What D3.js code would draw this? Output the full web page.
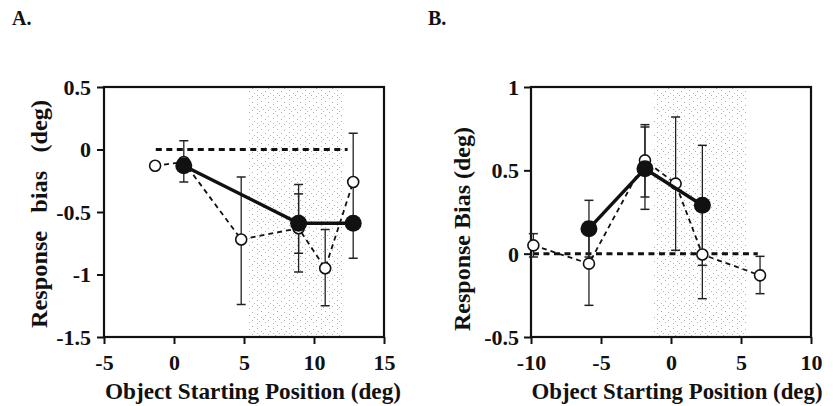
<!DOCTYPE html>
<html><head><meta charset="utf-8">
<script src="https://cdn.jsdelivr.net/npm/d3@7"></script>
<style>
html,body{margin:0;padding:0;background:#fff;}
svg{display:block;}
</style></head>
<body>
<svg id="chart" width="833" height="406"></svg>
<script>
// ---------- Panel A data ----------
const aXTicks = [-5, 0, 5, 10, 15];
const aXTickLabels = ["-5", "0", "5", "10", "15"];
const aYTicks = [0.5, 0, -0.5, -1, -1.5];
const aYTickLabels = ["0.5", "0", "-0.5", "-1", "-1.5"];
const aOpenX  = [-1.35, 0.7, 4.8, 8.9, 10.8, 12.8];
const aOpenY  = [-0.13, -0.10, -0.72, -0.63, -0.95, -0.26];
const aOpenLo = [null, null, -1.24, -0.98, -1.25, null];
const aOpenHi = [null, null, -0.22, -0.28, -0.64, null];
const aFillX  = [0.7, 8.9, 12.8];
const aFillY  = [-0.13, -0.59, -0.59];
const aFillLo = [-0.26, -0.83, -0.87];
const aFillHi = [0.07, -0.355, 0.13];
const aRefX   = [-1.3, 12.4];
const aRefY   = [0, 0];
const aShade  = [5.3, 12.1];

// ---------- Panel B data ----------
const bXTicks = [-10, -5, 0, 5, 10];
const bXTickLabels = ["-10", "-5", "0", "5", "10"];
const bYTicks = [1, 0.5, 0, -0.5];
const bYTickLabels = ["1", "0.5", "0", "-0.5"];
const bOpenX  = [-9.83, -5.86, -1.86, 0.33, 2.24, 6.36];
const bOpenY  = [0.05, -0.06, 0.56, 0.42, -0.005, -0.13];
const bOpenLo = [-0.02, -0.31, 0.34, 0.02, -0.27, -0.24];
const bOpenHi = [0.12, 0.19, 0.774, 0.82, 0.26, -0.016];
const bFillX  = [-5.86, -1.86, 2.24];
const bFillY  = [0.15, 0.51, 0.29];
const bFillLo = [-0.02, 0.266, -0.07];
const bFillHi = [0.32, 0.76, 0.65];
const bRefX   = [-9.86, 6.2];
const bRefY   = [0, 0];
const bShade  = [-1.3, 5.4];

const FONT = '"Liberation Serif", "Times New Roman", serif';
const svg = d3.select("#chart");

// stipple pattern
const defs = svg.append("defs");
const pat = defs.append("pattern").attr("id", "stip")
  .attr("patternUnits", "userSpaceOnUse").attr("width", 16).attr("height", 14);
const dots = [[1,1],[1,6],[1,11],[5,3],[5,9],[9,0],[9,7],[12,4],[12,12],[14,9],[3,13],[7,11]];
dots.forEach(d => pat.append("rect").attr("x", d[0]).attr("y", d[1])
  .attr("width", 1).attr("height", 1).attr("fill", "#b0b0b0"));

function styleText(sel, size) {
  sel.style("font-family", FONT).style("font-weight", "bold")
     .style("font-size", size + "px").attr("fill", "#111");
}

function panel(cfg) {
  const x = d3.scaleLinear().domain(cfg.xDom).range([cfg.left, cfg.right]);
  const y = d3.scaleLinear().domain(cfg.yDom).range([cfg.bottom, cfg.top]);
  const g = svg.append("g");

  // shaded region
  g.append("rect")
    .attr("x", x(cfg.shade[0])).attr("y", cfg.top)
    .attr("width", x(cfg.shade[1]) - x(cfg.shade[0]))
    .attr("height", cfg.bottom - cfg.top)
    .attr("fill", "url(#stip)");

  // axes
  const ax = g.append("g").attr("transform", `translate(0,${cfg.bottom})`)
    .call(d3.axisBottom(x).tickValues(cfg.xTicks).tickSize(7).tickPadding(10)
      .tickFormat((d, i) => cfg.xLabels[i]));
  const ay = g.append("g").attr("transform", `translate(${cfg.left},0)`)
    .call(d3.axisLeft(y).tickValues(cfg.yTicks).tickSize(7).tickPadding(cfg.yPad)
      .tickFormat((d, i) => cfg.yLabels[i]));
  [ax, ay].forEach(a => {
    a.select(".domain").remove();
    a.selectAll("line").attr("stroke", "#111").attr("stroke-width", 2);
    styleText(a.selectAll("text"), 22);
  });
  ay.selectAll("text").attr("dy", "0.34em");

  // frame
  g.append("rect").attr("x", cfg.left).attr("y", cfg.top)
    .attr("width", cfg.right - cfg.left).attr("height", cfg.bottom - cfg.top)
    .attr("fill", "none").attr("stroke", "#111").attr("stroke-width", 2.2);

  // reference line
  g.append("line")
    .attr("x1", x(cfg.refX[0])).attr("x2", x(cfg.refX[1]))
    .attr("y1", y(cfg.refY[0])).attr("y2", y(cfg.refY[1]))
    .attr("stroke", "#111").attr("stroke-width", 3).attr("stroke-dasharray", "6,4.5");

  // error bars
  function errBars(xs, lo, hi) {
    xs.forEach((xv, i) => {
      if (lo[i] == null) return;
      const cx = x(xv);
      g.append("line").attr("x1", cx).attr("x2", cx).attr("y1", y(lo[i])).attr("y2", y(hi[i]))
        .attr("stroke", "#222").attr("stroke-width", 1.3);
      [lo[i], hi[i]].forEach(v => g.append("line")
        .attr("x1", cx - 4.5).attr("x2", cx + 4.5).attr("y1", y(v)).attr("y2", y(v))
        .attr("stroke", "#222").attr("stroke-width", 1.5));
    });
  }
  errBars(cfg.openX, cfg.openLo, cfg.openHi);
  errBars(cfg.fillX, cfg.fillLo, cfg.fillHi);

  const line = d3.line().x(d => x(d[0])).y(d => y(d[1]));
  const openPts = cfg.openX.map((v, i) => [v, cfg.openY[i]]);
  const fillPts = cfg.fillX.map((v, i) => [v, cfg.fillY[i]]);

  g.append("path").attr("d", line(openPts)).attr("fill", "none")
    .attr("stroke", "#111").attr("stroke-width", 1.8).attr("stroke-dasharray", "5,4");
  g.selectAll(null).data(openPts).join("circle")
    .attr("cx", d => x(d[0])).attr("cy", d => y(d[1])).attr("r", 5.5)
    .attr("fill", "#fff").attr("stroke", "#111").attr("stroke-width", 1.6);

  g.append("path").attr("d", line(fillPts)).attr("fill", "none")
    .attr("stroke", "#111").attr("stroke-width", 3.5);
  g.selectAll(null).data(fillPts).join("circle")
    .attr("cx", d => x(d[0])).attr("cy", d => y(d[1])).attr("r", 8.5)
    .attr("fill", "#111");

  // titles
  const xt = g.append("text").attr("x", cfg.xTitleX).attr("y", 399).attr("text-anchor", "middle")
    .attr("textLength", cfg.xTitleW).attr("lengthAdjust", "spacingAndGlyphs")
    .text("Object Starting Position (deg)");
  styleText(xt, 23);
  const yt = g.append("text")
    .attr("transform", `translate(${cfg.yTitleX},${cfg.yTitleY}) rotate(-90)`)
    .attr("text-anchor", "middle")
    .attr("textLength", cfg.yTitleW).attr("lengthAdjust", "spacingAndGlyphs")
    .style("white-space", "pre")
    .text(cfg.yTitle);
  styleText(yt, 23);
  const lt = g.append("text").attr("x", cfg.labX).attr("y", 25).text(cfg.lab);
  styleText(lt, 20);
}

panel({
  xDom: [-5, 15], yDom: [-1.5, 0.5], left: 104, right: 384, top: 87, bottom: 337,
  xTicks: aXTicks, xLabels: aXTickLabels, yTicks: aYTicks, yLabels: aYTickLabels, yPad: 6,
  openX: aOpenX, openY: aOpenY, openLo: aOpenLo, openHi: aOpenHi,
  fillX: aFillX, fillY: aFillY, fillLo: aFillLo, fillHi: aFillHi,
  refX: aRefX, refY: aRefY, shade: aShade,
  xTitleX: 253, xTitleW: 296, yTitleX: 46.5, yTitleY: 214, yTitleW: 228,
  yTitle: "Response   bias   (deg)", lab: "A.", labX: 12
});
panel({
  xDom: [-10, 10], yDom: [-0.5, 1], left: 531, right: 811, top: 87, bottom: 337,
  xTicks: bXTicks, xLabels: bXTickLabels, yTicks: bYTicks, yLabels: bYTickLabels, yPad: 5,
  openX: bOpenX, openY: bOpenY, openLo: bOpenLo, openHi: bOpenHi,
  fillX: bFillX, fillY: bFillY, fillLo: bFillLo, fillHi: bFillHi,
  refX: bRefX, refY: bRefY, shade: bShade,
  xTitleX: 677, xTitleW: 291, yTitleX: 470, yTitleY: 229, yTitleW: 204,
  yTitle: "Response Bias (deg)", lab: "B.", labX: 428
});
</script>
</body></html>
